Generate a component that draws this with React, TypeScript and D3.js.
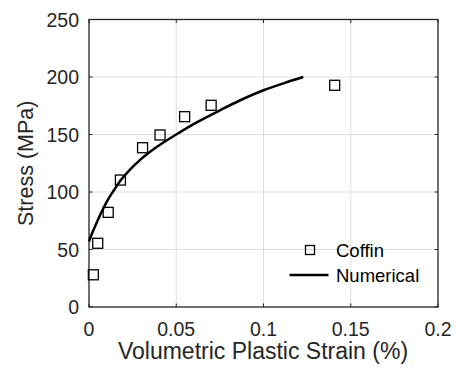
import React from "react";
import * as d3 from "d3";

const xTicks = [0, 0.05, 0.1, 0.15, 0.2];
const yTicks = [0, 50, 100, 150, 200, 250];
const xTickLabels = ["0", "0.05", "0.1", "0.15", "0.2"];

const coffinStrain = [0.0025, 0.005, 0.011, 0.018, 0.0307, 0.0407, 0.0548, 0.07, 0.1408];
const coffinStress = [28, 55.4, 82.3, 110.4, 138.5, 149.6, 165.5, 175.4, 192.8];

const numStrain = [0, 0.002, 0.004, 0.007, 0.0107, 0.0145, 0.0178, 0.0235, 0.029, 0.036, 0.0426, 0.05, 0.0617, 0.075, 0.087, 0.1, 0.1115, 0.1228];
const numStress = [57, 65, 72, 82, 93, 102, 109.5, 119.5, 127.5, 136, 143, 150, 160.5, 171, 180, 188.5, 194.5, 200];

const legendLabels = ["Coffin", "Numerical"];

const W = 457, H = 372;
const L = 89, R = 438, T = 19.5, B = 307;
const AX = "#262626";
const FONT = "'Liberation Sans', Arial, Helvetica, sans-serif";

export default function App() {
  const x = d3.scaleLinear().domain([0, 0.2]).range([L, R]);
  const y = d3.scaleLinear().domain([0, 250]).range([B, T]);
  const line = d3
    .line<number>()
    .x((_, i) => x(numStrain[i]))
    .y((d) => y(d))
    .curve(d3.curveMonotoneX);
  const ms = 10;
  return (
    <svg width={W} height={H} style={{ position: "absolute", left: 0, top: 0, background: "#fff" }} fontFamily={FONT}>
      <rect x={0} y={0} width={W} height={H} fill="#fff" />
      {/* grid */}
      {xTicks.slice(1, -1).map((t) => (
        <line key={"gx" + t} x1={x(t)} x2={x(t)} y1={T} y2={B} stroke="#dfdfdf" strokeWidth={1} />
      ))}
      {yTicks.slice(1, -1).map((t) => (
        <line key={"gy" + t} x1={L} x2={R} y1={y(t)} y2={y(t)} stroke="#dfdfdf" strokeWidth={1} />
      ))}
      {/* ticks */}
      {xTicks.map((t) => (
        <g key={"tx" + t}>
          <line x1={x(t)} x2={x(t)} y1={B} y2={B - 3.5} stroke={AX} />
          <line x1={x(t)} x2={x(t)} y1={T} y2={T + 3.5} stroke={AX} />
        </g>
      ))}
      {yTicks.map((t) => (
        <g key={"ty" + t}>
          <line x1={L} x2={L + 3.5} y1={y(t)} y2={y(t)} stroke={AX} />
          <line x1={R} x2={R - 3.5} y1={y(t)} y2={y(t)} stroke={AX} />
        </g>
      ))}
      <rect x={L} y={T} width={R - L} height={B - T} fill="none" stroke={AX} strokeWidth={1.3} />
      {/* tick labels */}
      {xTicks.map((t, i) => (
        <text key={"lx" + t} x={x(t)} y={336} textAnchor="middle" fontSize={19.5} fill={AX}>
          {xTickLabels[i]}
        </text>
      ))}
      {yTicks.map((t) => (
        <text key={"ly" + t} x={79} y={y(t) + 7} textAnchor="end" fontSize={19.5} fill={AX}>
          {t}
        </text>
      ))}
      {/* axis labels */}
      <text x={263} y={359} textAnchor="middle" fontSize={23} fill={AX}>
        Volumetric Plastic Strain (%)
      </text>
      <text transform={`translate(33,${(T + B) / 2}) rotate(-90)`} textAnchor="middle" fontSize={21.5} fill={AX}>
        Stress (MPa)
      </text>
      {/* data */}
      <path d={line(numStress) || ""} fill="none" stroke="#000" strokeWidth={2.5} />
      {coffinStress.map((s, i) => (
        <rect
          key={"c" + i}
          x={x(coffinStrain[i]) - ms / 2}
          y={y(s) - ms / 2}
          width={ms}
          height={ms}
          fill="none"
          stroke="#000"
          strokeWidth={1.3}
        />
      ))}
      {/* legend */}
      <rect x={310 - 4.5} y={250 - 4.5} width={9} height={9} fill="none" stroke="#000" strokeWidth={1.3} />
      <line x1={289.5} x2={328.5} y1={275} y2={275} stroke="#000" strokeWidth={2.5} />
      <text x={336} y={256.5} fontSize={18.5} fill="#000">
        {legendLabels[0]}
      </text>
      <text x={336} y={282} fontSize={18.5} fill="#000">
        {legendLabels[1]}
      </text>
    </svg>
  );
}
